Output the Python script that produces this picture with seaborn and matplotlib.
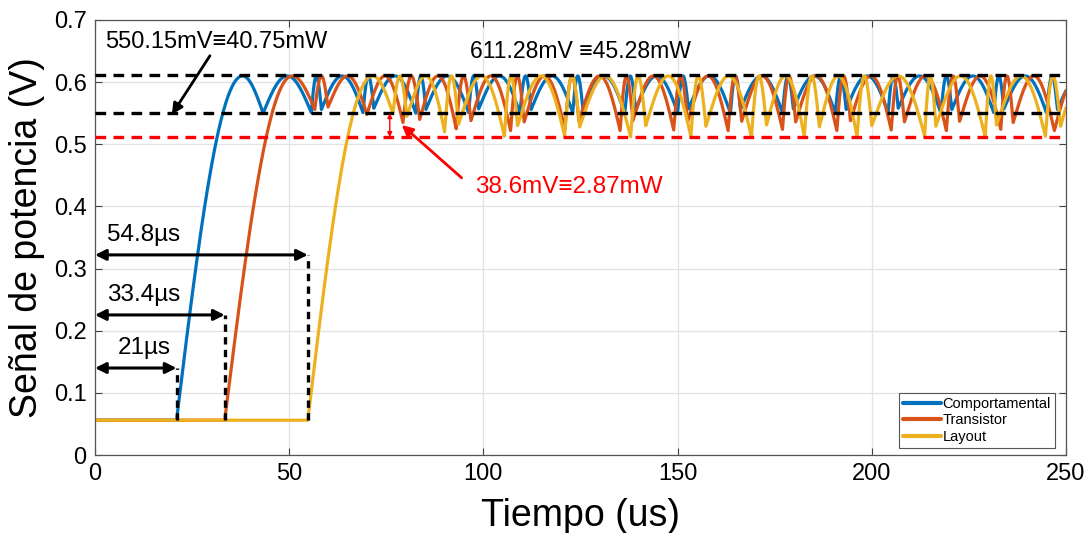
import numpy as np
import pandas as pd
import matplotlib
matplotlib.use("Agg")
import matplotlib.pyplot as plt
import seaborn as sns

# ---- data -----------------------------------------------------------------
series_names = ["Comportamental", "Transistor", "Layout"]
series_colors = ["#0072BD", "#D95319", "#EDB120"]

baseline_v = 0.056          # level before start-up (V)
peak_v = 0.610              # crest of the ripple (V)
start_us = [21.0, 33.4, 54.8]      # start-up instants (us)
first_peak_us = [38.0, 50.8, 71.5]  # first crest after start-up (us)

# ripple valleys (time in us, level in V) for each model
cusp_t_comportamental = [43.3, 55.7, 58.3, 69.0, 71.8, 82.6, 85.2, 96.2, 98.8,
                         109.4, 112.3, 123.0, 125.6, 136.4, 139.2, 150.0, 152.8,
                         163.6, 166.2, 177.0, 179.8, 190.6, 193.4, 204.2, 206.8,
                         217.8, 220.6, 231.4, 234.0, 245.0, 247.8]
cusp_v_comportamental = [0.550, 0.551, 0.556, 0.551, 0.558, 0.550, 0.556, 0.551, 0.557,
                         0.550, 0.556, 0.551, 0.558, 0.550, 0.555, 0.551, 0.557,
                         0.550, 0.556, 0.551, 0.557, 0.550, 0.556, 0.551, 0.558,
                         0.550, 0.556, 0.551, 0.557, 0.550, 0.556]

cusp_t_transistor = [56.6, 60.0, 70.0, 79.3, 83.6, 93.0, 96.8, 107.0, 110.5,
                     121.0, 124.6, 135.2, 138.5, 149.0, 152.6, 163.0, 166.5,
                     177.0, 180.4, 191.0, 194.5, 205.0, 208.4, 219.2, 222.6,
                     233.2, 236.4, 247.0]
cusp_v_transistor = [0.556, 0.560, 0.548, 0.535, 0.540, 0.525, 0.538, 0.522, 0.536,
                     0.524, 0.537, 0.522, 0.538, 0.523, 0.536, 0.522, 0.537,
                     0.524, 0.536, 0.522, 0.538, 0.523, 0.536, 0.522, 0.537,
                     0.524, 0.535, 0.522]

cusp_t_layout = [76.7, 80.3, 90.0, 93.6, 105.4, 108.8, 120.9, 124.8, 137.9, 141.8,
                 153.4, 157.3, 169.0, 172.9, 182.6, 186.5, 196.2, 200.0, 213.6,
                 216.5, 229.2, 232.1, 244.7, 248.6]
cusp_v_layout = [0.550, 0.545, 0.520, 0.532, 0.513, 0.530, 0.514, 0.528, 0.512, 0.530,
                 0.513, 0.529, 0.512, 0.531, 0.513, 0.528, 0.512, 0.530, 0.513,
                 0.529, 0.512, 0.531, 0.513, 0.529]

level_max = 0.61128         # 611.28 mV
level_min_beh = 0.55015     # 550.15 mV
level_min_layout = 0.51155  # 550.15 mV - 38.6 mV

span_labels = ["21µs", "33.4µs", "54.8µs"]
span_arrow_v = [0.140, 0.2254, 0.322]

x_ticks = [0, 50, 100, 150, 200, 250]
y_ticks = [0, 0.1, 0.2, 0.3, 0.4, 0.5, 0.6, 0.7]
t_end = 250.0


def waveform(t0, tp, cusp_t, cusp_v, n=60):
    """Start-up edge followed by rectified ripple arches between valleys."""
    ts, vs = [0.0, t0], [baseline_v, baseline_v]
    s = np.linspace(0, 1, n)
    # rising quarter up to the first crest
    ts += list(t0 + (tp - t0) * s)
    vs += list(baseline_v + (peak_v - baseline_v) * np.sin(np.pi / 2 * s))
    # falling quarter down to the first valley
    ts += list(tp + (cusp_t[0] - tp) * s)
    vs += list(cusp_v[0] + (peak_v - cusp_v[0]) * np.cos(np.pi / 2 * s))
    for a, b, va, vb in zip(cusp_t[:-1], cusp_t[1:], cusp_v[:-1], cusp_v[1:]):
        base = va + (vb - va) * s
        ts += list(a + (b - a) * s)
        vs += list(base + (peak_v - base) * np.sin(np.pi * s))
    # last arch runs out of the window
    a, va = cusp_t[-1], cusp_v[-1]
    width = 11.5
    ss = s[a + width * s <= t_end]
    ts += list(a + width * ss)
    vs += list(va + (peak_v - va) * np.sin(np.pi * ss))
    return np.array(ts), np.array(vs)


cusps_t = [cusp_t_comportamental, cusp_t_transistor, cusp_t_layout]
cusps_v = [cusp_v_comportamental, cusp_v_transistor, cusp_v_layout]
frames = []
for name, t0, tp, ct, cv in zip(series_names, start_us, first_peak_us, cusps_t, cusps_v):
    t, v = waveform(t0, tp, ct, cv)
    frames.append(pd.DataFrame({"Tiempo": t, "Señal": v, "Modelo": name}))
df = pd.concat(frames, ignore_index=True)

# ---- figure ---------------------------------------------------------------
sns.set_style("whitegrid")
plt.rcParams["font.family"] = ["Liberation Sans", "DejaVu Sans"]
plt.rcParams["xtick.direction"] = "in"
plt.rcParams["ytick.direction"] = "in"
plt.rcParams["text.color"] = "black"
plt.rcParams["axes.labelcolor"] = "black"
plt.rcParams["xtick.labelcolor"] = "black"
plt.rcParams["ytick.labelcolor"] = "black"

fig = plt.figure(figsize=(10.89, 5.33), dpi=100)
ax = fig.add_axes([0.0872, 0.1463, 0.8917, 0.8162])

sns.lineplot(data=df, x="Tiempo", y="Señal", hue="Modelo", hue_order=series_names,
             palette=series_colors, sort=False, estimator=None, linewidth=2.3, ax=ax)

dash = dict(linestyle=(0, (3.2, 2.2)), linewidth=2.4)
ax.axhline(level_max, color="black", **dash, zorder=4)
ax.axhline(level_min_beh, color="black", **dash, zorder=4)
ax.axhline(level_min_layout, color="#FF0000", **dash, zorder=4)

# start-up time markers
for t0, lab, yv in zip(start_us, span_labels, span_arrow_v):
    ax.plot([t0, t0], [baseline_v, yv], color="black", linestyle=(0, (2.2, 1.6)),
            linewidth=2.4, zorder=5)
    ax.annotate("", xy=(0, yv), xytext=(t0, yv),
                arrowprops=dict(arrowstyle="<|-|>", color="black", lw=2.2,
                                mutation_scale=16, shrinkA=0, shrinkB=0), zorder=5)
    ax.text(12.6, yv + 0.032, lab, fontsize=17.5, ha="center", va="center", zorder=6)

# level annotations
ax.text(2.6, 0.665, "550.15mV≡40.75mW", fontsize=17, ha="left", va="center")
ax.annotate("", xy=(19.8, 0.548), xytext=(29.6, 0.6425),
            arrowprops=dict(arrowstyle="-|>", color="black", lw=2.0,
                            mutation_scale=16, shrinkA=0, shrinkB=0))
ax.text(96.5, 0.649, "611.28mV ≡45.28mW", fontsize=16.6, ha="left", va="center")

ax.annotate("", xy=(75.9, level_min_layout), xytext=(75.9, level_min_beh),
            arrowprops=dict(arrowstyle="<|-|>", color="#FF0000", lw=1.0,
                            mutation_scale=7, shrinkA=0, shrinkB=0), zorder=6)
ax.annotate("", xy=(79.0, 0.531), xytext=(94.4, 0.446),
            arrowprops=dict(arrowstyle="-|>", color="#FF0000", lw=2.0,
                            mutation_scale=16, shrinkA=0, shrinkB=0))
ax.text(97.8, 0.4316, "38.6mV≡2.87mW", fontsize=17.5, ha="left", va="center",
        color="#FF0000")

# axes cosmetics
ax.set_xlim(0, 250)
ax.set_ylim(0, 0.7)
ax.set_xticks(x_ticks)
ax.set_yticks(y_ticks)
ax.set_xticklabels([str(x) for x in x_ticks])
ax.set_yticklabels(["0" if y == 0 else f"{y:g}" for y in y_ticks])
ax.tick_params(labelsize=17, length=5, color="#404040", pad=6,
               top=True, right=True, bottom=True, left=True)
ax.grid(True, color="#E3E3E3", linewidth=0.9)
for sp in ax.spines.values():
    sp.set_color("#555555")
    sp.set_linewidth(0.9)
ax.set_xlabel("Tiempo (us)", fontsize=27, labelpad=9)
ax.set_ylabel("Señal de potencia (V)", fontsize=27, labelpad=6)

leg = ax.legend(loc="lower right", bbox_to_anchor=(0.989, 0.016), borderaxespad=0,
                fontsize=10.5, frameon=True, fancybox=False, framealpha=1,
                handlelength=2.6, handletextpad=0.1, borderpad=0.3,
                labelspacing=0.15, edgecolor="#555555")
for line in leg.get_lines():
    line.set_linewidth(3)
leg.get_frame().set_linewidth(0.8)

fig.savefig("out.png", dpi=100)
